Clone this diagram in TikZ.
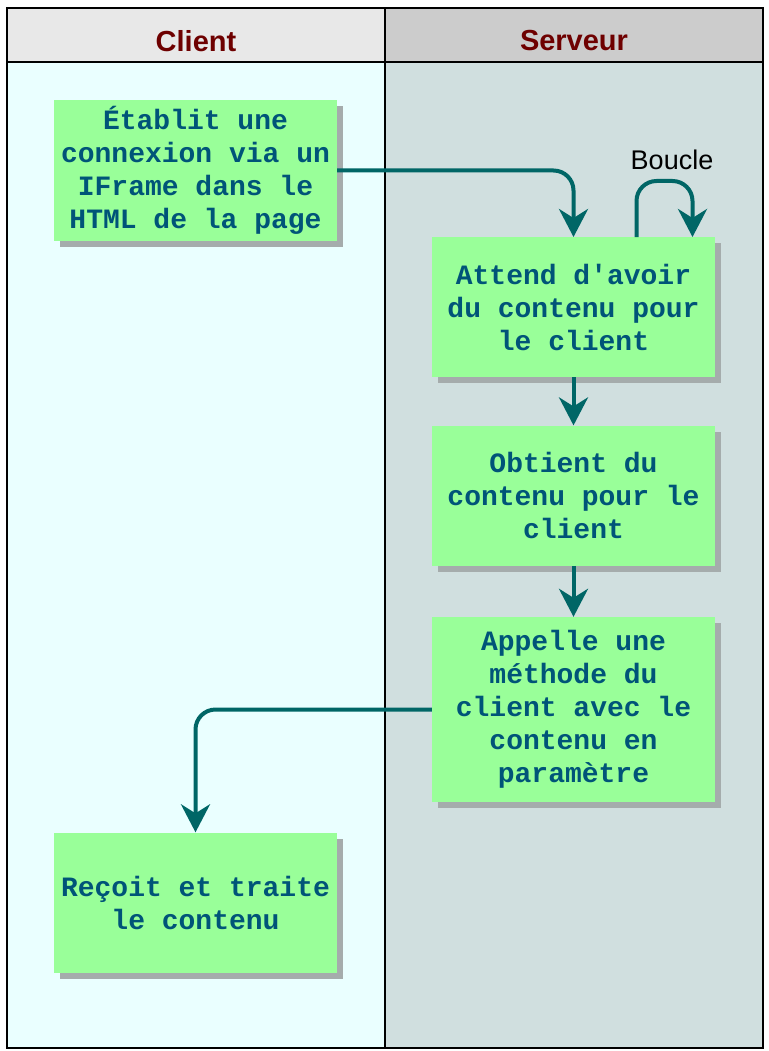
\documentclass[tikz,border=0pt]{standalone}
\usepackage{fontspec}
\usetikzlibrary{positioning, arrows.meta, shadows}
\newfontfamily\boxfont{Liberation Mono}
\newfontfamily\labelfont{Liberation Sans}
\definecolor{boxgreen}{RGB}{153,255,153}
\definecolor{boxtext}{RGB}{0,84,120}
\definecolor{flowteal}{RGB}{0,102,102}
\definecolor{headred}{RGB}{110,0,0}
\definecolor{clientbg}{RGB}{234,255,255}
\definecolor{serveurbg}{RGB}{208,223,223}
\definecolor{shadowgray}{RGB}{165,172,172}
\tikzset{>={Stealth[length=28pt,width=29pt,inset=9pt]},
  etape/.style={fill=boxgreen, minimum width=283pt, minimum height=140pt, align=center,
    inner sep=6pt, text=boxtext, font=\boxfont\bfseries\fontsize{28pt}{33pt}\selectfont,
    drop shadow={shadow xshift=6pt, shadow yshift=-6pt, fill=shadowgray, opacity=1}},
  flux/.style={->, draw=flowteal, line width=4pt, rounded corners=20pt},
  entete/.style={text=headred, font=\labelfont\bfseries\fontsize{29pt}{32pt}\selectfont}}

\begin{document}
\begin{tikzpicture}[x=1pt, y=1pt]
\useasboundingbox (0,0) rectangle (768,-1051);
\fill[clientbg] (7,-62) rectangle (385,-1048);
\fill[serveurbg] (385,-62) rectangle (763,-1048);
\fill[black!9] (7,-8) rectangle (385,-62);
\fill[black!20] (385,-8) rectangle (763,-62);
\draw[line width=2pt] (7,-8) rectangle (763,-1048);
\draw[line width=2pt] (7,-62) -- (763,-62);
\draw[line width=2pt] (385,-8) -- (385,-1048);
\node[entete] (client) at (196,-41) {Client};
\node[entete] (serveur) at (574,-41) {Serveur};

\node[etape] (etablit) at (195.5,-170.5) {Établit une\\connexion via un\\IFrame dans le\\HTML de la page};
\node[etape, anchor=north] (attend) at (573.5,-237) {Attend d'avoir\\du contenu pour\\le client};
\node[etape, below=48pt of attend] (obtient) {Obtient du\\contenu pour le\\client};
\node[etape, below=51pt of obtient, minimum height=185pt] (appelle) {Appelle une\\méthode du\\client avec le\\contenu en\\paramètre};
\node[etape] (recoit) at (195.5,-902.5) {Reçoit et traite\\le contenu};

\coordinate (boucleA) at ([xshift=63pt]attend.north);
\coordinate (boucleB) at ([xshift=119pt]attend.north);
\node[font=\labelfont\fontsize{27pt}{30pt}\selectfont] (boucle) at (672,-160) {Boucle};

\draw[flux] (etablit.east) -| (attend.north);
\draw[flux] (boucleA) -- ++(0,56) -| (boucleB);
\draw[flux] (attend) -- (obtient);
\draw[flux] (obtient) -- (appelle);
\draw[flux] (appelle.west) -| (recoit.north);
\end{tikzpicture}
\end{document}
